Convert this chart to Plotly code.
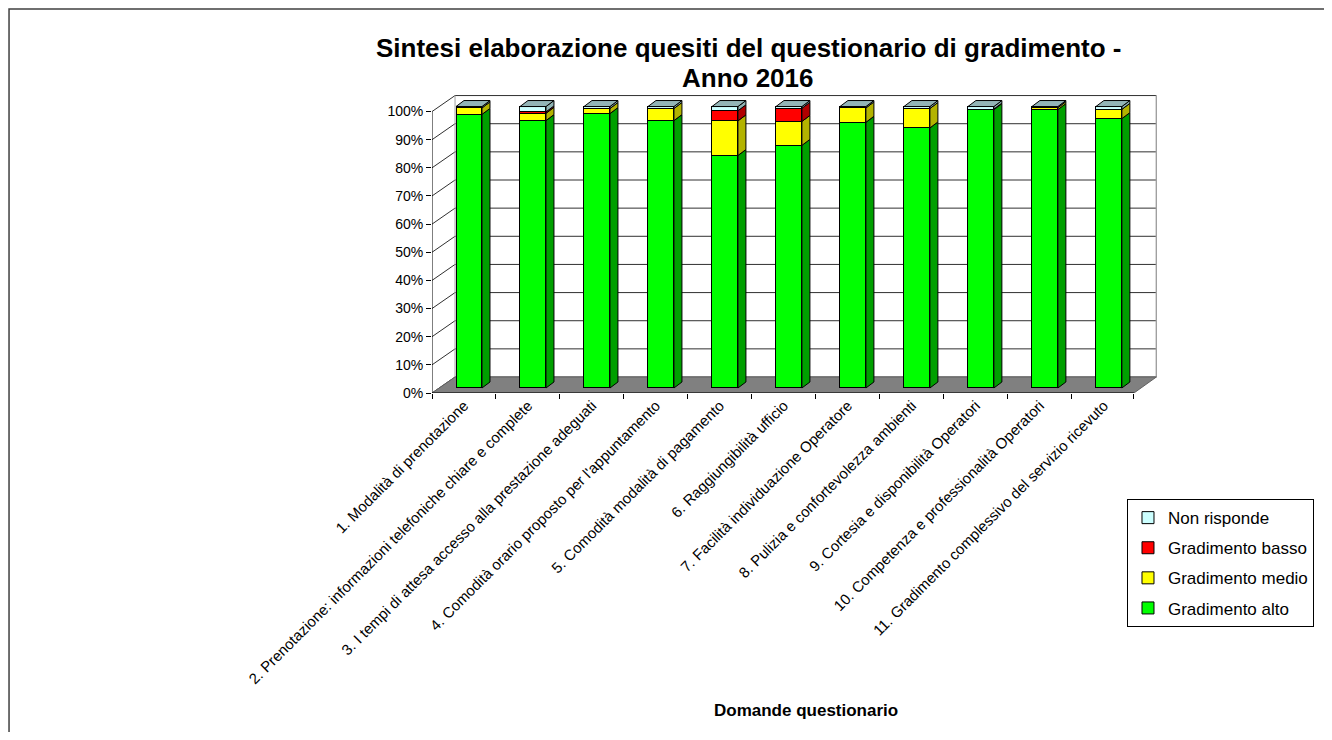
import plotly.graph_objects as go

categories = [
    "1. Modalità di prenotazione",
    "2. Prenotazione: informazioni telefoniche chiare e complete",
    "3. I tempi di attesa accesso alla prestazione adeguati",
    "4. Comodità orario proposto per l'appuntamento",
    "5. Comodità modalità di pagamento",
    "6. Raggiungibilità ufficio",
    "7. Facilità individuazione Operatore",
    "8. Pulizia e confortevolezza ambienti",
    "9. Cortesia e disponibilità Operatori",
    "10. Competenza e professionalità Operatori",
    "11. Gradimento complessivo del servizio ricevuto",
]
gradimento_alto = [97.2, 95.0, 97.5, 95.0, 82.6, 86.2, 94.4, 92.4, 98.9, 98.9, 95.7]
gradimento_medio = [2.3, 2.6, 1.8, 4.3, 12.3, 8.5, 5.1, 6.9, 0.2, 0.7, 3.3]
gradimento_basso = [0.0, 0.5, 0.0, 0.0, 3.6, 4.7, 0.0, 0.0, 0.0, 0.0, 0.0]
non_risponde = [0.5, 1.9, 0.7, 0.7, 1.5, 0.6, 0.5, 0.7, 0.9, 0.4, 1.0]
y_ticks = [0, 10, 20, 30, 40, 50, 60, 70, 80, 90, 100]

FONT = "Liberation Sans, Arial, sans-serif"
series = [
    ("Gradimento alto", gradimento_alto, "#00FF00", "#009F00"),
    ("Gradimento medio", gradimento_medio, "#FFFF00", "#B3B300"),
    ("Gradimento basso", gradimento_basso, "#FF0000", "#B00000"),
    ("Non risponde", non_risponde, "#CCFFFF", "#8FB3B3"),
]
CAP_COLOR = "#93B4B6"

x = list(range(len(categories)))
BAR_W = 0.406
BAR_OFF = -0.125
DX, DY = 0.125, 2.13          # bar depth
FRONT_Y0 = -1.78               # front plane zero
BACK_Y0 = 3.9                  # back wall zero
XL_F, XL_B = -0.5, -0.14
XR_F, XR_B = 10.47, 10.82

fig = go.Figure()
n_series = len(series)
for k, (name, vals, col, _) in enumerate(series):
    fig.add_trace(go.Bar(
        x=x, y=vals, name=name, width=BAR_W, offset=BAR_OFF, legendgroup=name,
        legendrank=n_series - k,
        marker=dict(color=col, line=dict(color="black", width=1)),
    ))

shapes = []
for t in y_ticks:
    shapes.append(dict(type="line", xref="x", yref="y", layer="below",
                       x0=XL_B, x1=XR_B, y0=BACK_Y0 + t, y1=BACK_Y0 + t,
                       line=dict(color="#303030", width=1)))
    shapes.append(dict(type="line", xref="x", yref="y", layer="below",
                       x0=XL_F, x1=XL_B, y0=FRONT_Y0 + t, y1=BACK_Y0 + t,
                       line=dict(color="#303030", width=1)))
shapes.append(dict(type="line", xref="x", yref="y", layer="below",
                   x0=XL_B, x1=XL_B, y0=BACK_Y0, y1=BACK_Y0 + 100,
                   line=dict(color="#A0A0A0", width=1)))
shapes.append(dict(type="line", xref="x", yref="y", layer="below",
                   x0=XR_B, x1=XR_B, y0=BACK_Y0, y1=BACK_Y0 + 100,
                   line=dict(color="#A0A0A0", width=1.5)))
shapes.append(dict(type="path", xref="x", yref="y", layer="below",
                   path=f"M {XL_F},{FRONT_Y0} L {XR_F},{FRONT_Y0} L {XR_B},{BACK_Y0} L {XL_B},{BACK_Y0} Z",
                   fillcolor="#808080", line=dict(color="#606060", width=1)))
shapes.append(dict(type="line", xref="x", yref="y", layer="above",
                   x0=XL_F, x1=XL_F, y0=FRONT_Y0, y1=FRONT_Y0 + 100,
                   line=dict(color="black", width=1)))
shapes.append(dict(type="line", xref="x", yref="y", layer="above",
                   x0=XL_F, x1=XR_F, y0=FRONT_Y0, y1=FRONT_Y0,
                   line=dict(color="black", width=1)))

for i in x:
    base = 0.0
    x1 = i + BAR_OFF + BAR_W
    x0 = i + BAR_OFF
    for name, vals, col, side in series:
        h = vals[i]
        if h > 0:
            top = base + h
            shapes.append(dict(type="path", xref="x", yref="y", layer="above",
                               path=f"M {x1},{base} L {x1+DX},{base+DY} L {x1+DX},{top+DY} L {x1},{top} Z",
                               fillcolor=side, line=dict(color="black", width=1)))
            base = top
    shapes.append(dict(type="path", xref="x", yref="y", layer="above",
                       path=f"M {x0},{base} L {x0+DX},{base+DY} L {x1+DX},{base+DY} L {x1},{base} Z",
                       fillcolor=CAP_COLOR, line=dict(color="black", width=1)))

# outer frame
shapes.append(dict(type="rect", xref="paper", yref="paper",
                   x0=-0.5834, x1=1.26, y0=-1.2, y1=1.2886,
                   line=dict(color="#404040", width=1.5), fillcolor="rgba(0,0,0,0)"))

fig.update_layout(
    width=1316, height=724,
    margin=dict(l=424, r=167, t=87, b=339, autoexpand=False),
    barmode="stack",
    plot_bgcolor="white", paper_bgcolor="white",
    font=dict(family=FONT, color="black"),
    shapes=shapes,
    showlegend=True,
    legend=dict(x=0.9586, y=-0.356, xanchor="left", yanchor="top",
                traceorder="grouped", bordercolor="black", borderwidth=1,
                font=dict(size=17, family=FONT), itemwidth=30,
                bgcolor="white", tracegroupgap=5),
    annotations=[
        dict(text="<b>Sintesi elaborazione quesiti del questionario di gradimento -</b>",
             xref="paper", yref="paper", x=0.4359, y=1.1577, xanchor="center", yanchor="middle",
             showarrow=False, font=dict(size=26, family=FONT)),
        dict(text="<b>Anno 2016</b>",
             xref="paper", yref="paper", x=0.4359, y=1.057, xanchor="center", yanchor="middle",
             showarrow=False, font=dict(size=26, family=FONT)),
        dict(text="<b>Domande questionario</b>", xref="paper", yref="paper",
             x=0.516, y=-1.064, xanchor="center", yanchor="middle",
             showarrow=False, font=dict(size=17, family=FONT)),
    ],
)
fig.update_xaxes(
    range=[-0.5, 10.83], tickvals=x, ticktext=categories, tickangle=-45,
    showgrid=False, zeroline=False, showline=False, ticks="",
    tickfont=dict(size=15, family=FONT),
    minor=dict(tickvals=[i - 0.5 for i in x] + [len(x) - 0.5 - 0.03], ticks="outside",
               ticklen=5, tickcolor="black", showgrid=False),
)
fig.update_yaxes(
    range=[FRONT_Y0, 104.1], tickvals=[FRONT_Y0 + t for t in y_ticks],
    ticktext=[f"{t}%" for t in y_ticks], ticks="outside", ticklen=5,
    tickcolor="black", showgrid=False, zeroline=False, showline=False,
    tickfont=dict(size=14, family=FONT),
)
fig.write_html("out.html")
